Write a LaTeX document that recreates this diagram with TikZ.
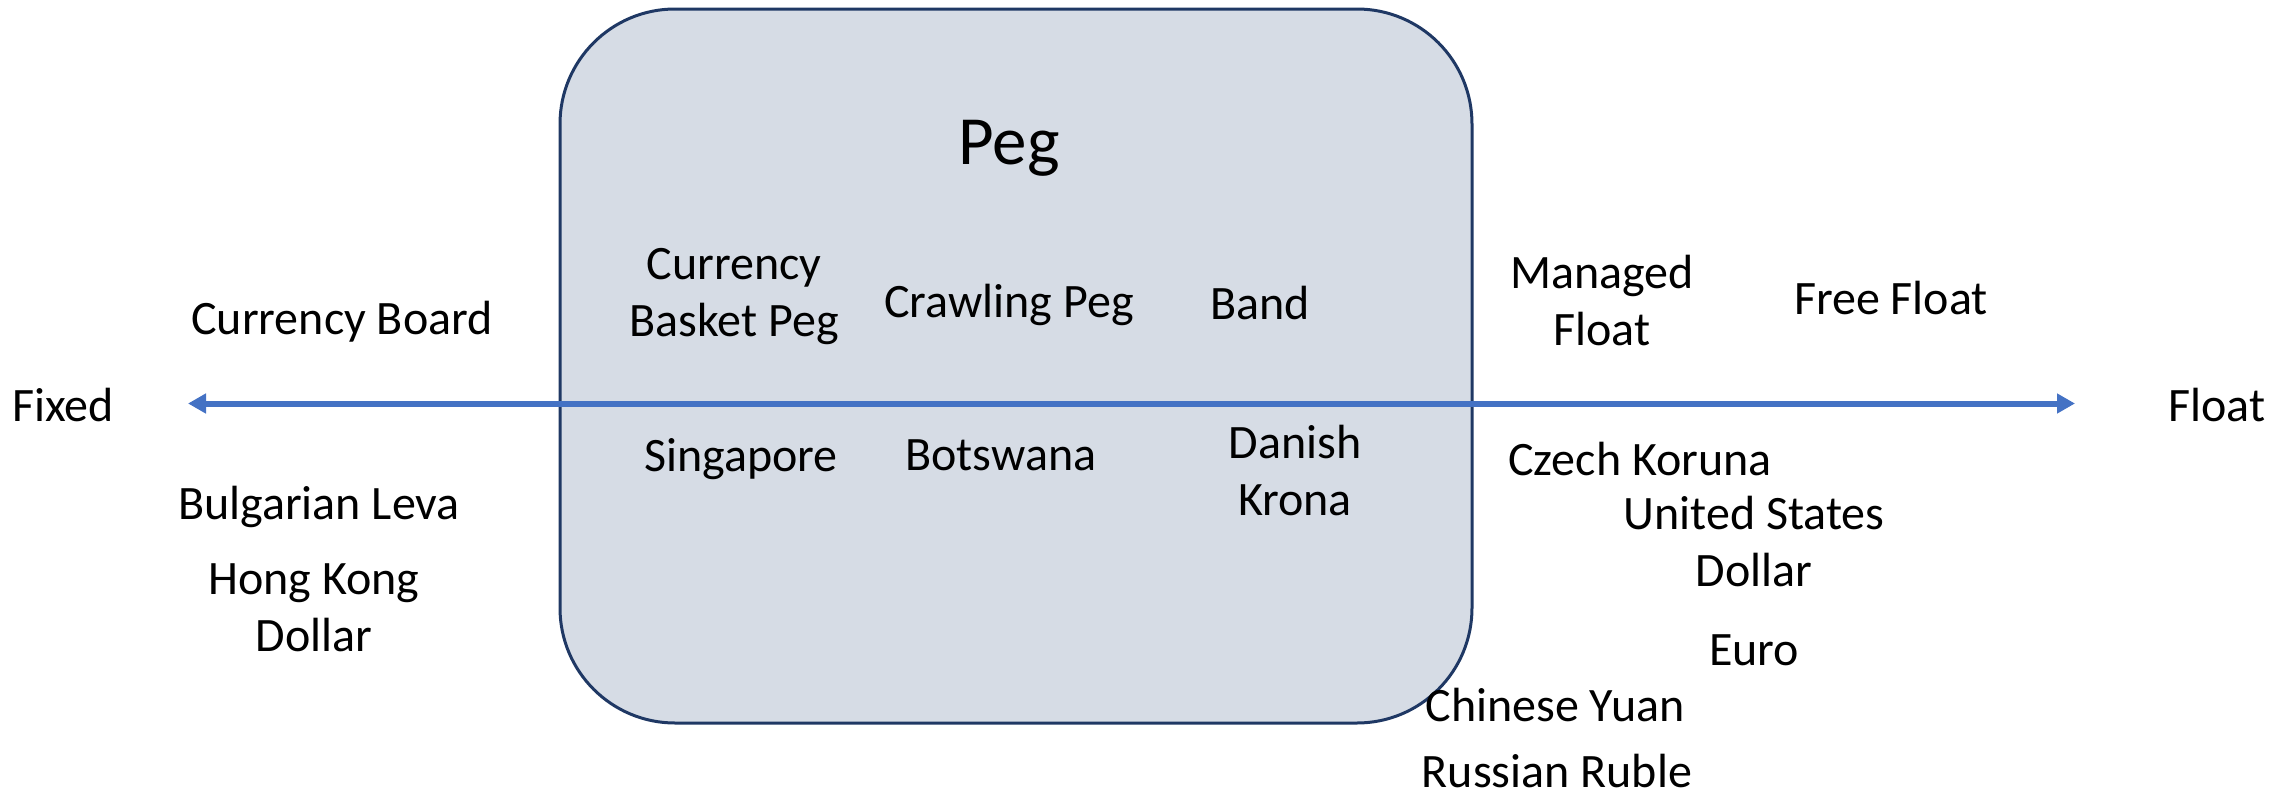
\documentclass[tikz,border=0pt]{standalone}
\usepackage{fontspec}
\setmainfont{Carlito}
\usetikzlibrary{arrows.meta}
\definecolor{pegfill}{HTML}{D6DCE5}
\definecolor{pegline}{HTML}{1F3864}
\definecolor{axisblue}{HTML}{4472C4}
\tikzset{
  lbl/.style={font=\fontsize{48}{57}\selectfont, align=center, inner sep=0pt, text=black},
  title/.style={font=\fontsize{69}{80}\selectfont, inner sep=0pt, text=black},
  pegbox/.style={fill=pegfill, draw=pegline, line width=3pt, rounded corners=115pt},
  axis/.style={draw=axisblue, line width=6pt, {Triangle[length=18pt,width=19pt]}-{Triangle[length=18pt,width=19pt]}}
}
\begin{document}
\begin{tikzpicture}[x=1pt,y=-1pt]
\useasboundingbox (0,0) rectangle (2292,795);
\draw[pegbox] (560,9) rectangle (1472,723);
\coordinate (L) at (188,403.5);
\coordinate (R) at (2075,403.5);
\draw[axis] (L) -- (R);
\node[lbl] (fixed) at (63,405) {Fixed};
\node[lbl] (float) at (2217,405) {Float};
\node[title] (peg) at (1009,148) {Peg};
\node[lbl] (cbp) at (734,297) {Currency\\Basket Peg};
\node[lbl] (crawl) at (1009,305) {Crawling Peg};
\node[lbl] (band) at (1260,303) {Band};
\node[lbl] (managed) at (1602,301) {Managed\\Float};
\node[lbl] (free) at (1891,298) {Free Float};
\node[lbl] (board) at (342,322) {Currency Board};
\node[lbl] (sing) at (741,459) {Singapore};
\node[lbl] (bots) at (1001,455) {Botswana};
\node[lbl] (dan) at (1295,471) {Danish\\Krona};
\node[lbl] (czech) at (1640,459) {Czech Koruna};
\node[lbl] (usd) at (1754,542) {United States\\Dollar};
\node[lbl] (euro) at (1754,650) {Euro};
\node[lbl] (cny) at (1555,705) {Chinese Yuan};
\node[lbl] (rub) at (1557,771) {Russian Ruble};
\node[lbl] (bgn) at (319,507) {Bulgarian Leva};
\node[lbl] (hkd) at (314,608) {Hong Kong\\Dollar};
\end{tikzpicture}
\end{document}
